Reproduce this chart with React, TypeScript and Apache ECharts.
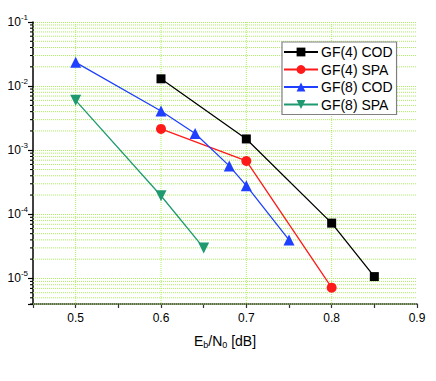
import React, { useEffect, useRef } from "react";
import * as echarts from "echarts";

const seriesNames = ["GF(4) COD", "GF(4) SPA", "GF(8) COD", "GF(8) SPA"];
const gf4CodX = [0.6, 0.7, 0.8, 0.85];
const gf4CodY = [0.013, 0.0015, 7.3e-5, 1.07e-5];
const gf4SpaX = [0.6, 0.7, 0.8];
const gf4SpaY = [0.00215, 0.00068, 7.2e-6];
const gf8CodX = [0.5, 0.6, 0.64, 0.68, 0.7, 0.75];
const gf8CodY = [0.0235, 0.0041, 0.00182, 0.00057, 0.00028, 4.0e-5];
const gf8SpaX = [0.5, 0.6, 0.65];
const gf8SpaY = [0.006, 0.000195, 3.0e-5];

const xMin = 0.45;
const xMax = 0.9;
const yMin = 4e-6;
const yMax = 0.1;
const xGridValues = [0.5, 0.6, 0.7, 0.8];
const yMinorValues: number[] = [];
for (let e = -6; e <= -2; e++) {
  for (let m = 2; m <= 9; m++) {
    const v = m * Math.pow(10, e);
    if (v >= yMin && v < yMax) yMinorValues.push(v);
  }
}

const GRID_GREEN = "#aef060";
const FONT = "'Liberation Sans', Arial, sans-serif";

export default function App() {
  const ref = useRef<HTMLDivElement>(null);
  useEffect(() => {
    const chart = echarts.init(ref.current!, undefined, { renderer: "svg" });
    const zip = (xs: number[], ys: number[]) => xs.map((x, i) => [x, ys[i]]);
    const mk = (
      name: string,
      xs: number[],
      ys: number[],
      color: string,
      symbol: string,
      size: number,
      rotate = 0
    ) => ({
      name,
      type: "line",
      data: zip(xs, ys),
      symbol,
      symbolSize: size,
      symbolRotate: rotate,
      showSymbol: true,
      lineStyle: { color, width: 1.3 },
      itemStyle: { color },
      z: 5,
    });
    chart.setOption({
      animation: false,
      textStyle: { fontFamily: FONT },
      grid: { left: 33, right: 19, top: 22, bottom: 77 },
      legend: {
        data: seriesNames,
        left: 282,
        top: 42,
        orient: "vertical",
        itemWidth: 34,
        itemHeight: 11,
        itemGap: 3.5,
        padding: [3, 4, 3, 1],
        backgroundColor: "#fff",
        borderColor: "#808080",
        borderWidth: 1.2,
        borderRadius: 0,
        textStyle: { fontSize: 14, color: "#000", fontFamily: FONT, padding: [0, 0, 0, -2] },
        z: 10,
      },
      xAxis: {
        type: "value",
        min: xMin,
        max: xMax,
        interval: 0.05,
        name: "{n|E}{s|b}{n|/N}{s|0}{n| [dB]}",
        nameLocation: "middle",
        nameGap: 28,
        nameTextStyle: {
          rich: {
            n: { fontSize: 14, color: "#000", fontFamily: FONT },
            s: { fontSize: 9, color: "#000", fontFamily: FONT, padding: [8, 0, 0, 0] },
          },
        },
        axisLine: { show: true, onZero: false, lineStyle: { color: "#333", width: 1.5 } },
        axisTick: { show: true, inside: false, length: 4, lineStyle: { color: "#333", width: 1.2 } },
        axisLabel: {
          margin: 8,
          fontSize: 12,
          color: "#000",
          fontFamily: FONT,
          formatter: (v: number) =>
            Math.abs(v * 10 - Math.round(v * 10)) < 1e-6 ? v.toFixed(1) : "",
        },
        splitLine: { show: false },
      },
      yAxis: {
        type: "log",
        logBase: 10,
        min: yMin,
        max: yMax,
        axisLine: { show: true, onZero: false, lineStyle: { color: "#000", width: 1.5 } },
        axisTick: { show: true, inside: false, length: 5, lineStyle: { color: "#000", width: 1.2 } },
        axisLabel: {
          margin: 5,
          color: "#000",
          fontFamily: FONT,
          formatter: (v: number) => {
            const l = Math.log10(v);
            const n = Math.round(l);
            if (Math.abs(l - n) > 1e-6) return "";
            return `{b|10}{s|${n}}`;
          },
          rich: {
            b: { fontSize: 12, color: "#000", fontFamily: FONT },
            s: { fontSize: 8, color: "#000", fontFamily: FONT, padding: [0, 0, 9, 0] },
          },
        },
        splitLine: { show: true, lineStyle: { color: GRID_GREEN, type: [1, 1], width: 1 } },
      },
      series: [
        {
          name: "minorGrid",
          type: "custom",
          silent: true,
          z: 1,
          data: yMinorValues.map((v) => [xMin, v]),
          encode: { x: 0, y: 1 },
          renderItem: (params: any, api: any) => {
            const cs = params.coordSys;
            const p = api.coord([api.value(0), api.value(1)]);
            return {
              type: "group",
              children: [
                {
                  type: "line",
                  shape: { x1: cs.x, y1: p[1], x2: cs.x + cs.width, y2: p[1] },
                  style: { stroke: GRID_GREEN, lineWidth: 1, lineDash: [1, 1] },
                },
                {
                  type: "line",
                  shape: { x1: cs.x - 3, y1: p[1], x2: cs.x, y2: p[1] },
                  style: { stroke: "#000", lineWidth: 1.1 },
                },
              ],
            };
          },
        },
        {
          name: "xGrid",
          type: "custom",
          silent: true,
          z: 1,
          data: xGridValues.map((x) => [x, yMax]),
          encode: { x: 0, y: 1 },
          renderItem: (params: any, api: any) => {
            const cs = params.coordSys;
            const p = api.coord([api.value(0), api.value(1)]);
            return {
              type: "line",
              shape: { x1: p[0], y1: cs.y, x2: p[0], y2: cs.y + cs.height },
              style: { stroke: GRID_GREEN, lineWidth: 1, lineDash: [1, 1] },
            };
          },
        },
        mk(seriesNames[0], gf4CodX, gf4CodY, "#000000", "rect", 9),
        mk(seriesNames[1], gf4SpaX, gf4SpaY, "#ff1a1a", "circle", 10),
        mk(seriesNames[2], gf8CodX, gf8CodY, "#2040ff", "triangle", 11),
        mk(seriesNames[3], gf8SpaX, gf8SpaY, "#1f9a70", "triangle", 11, 180),
      ],
    });
    return () => chart.dispose();
  }, []);
  return (
    <div
      ref={ref}
      style={{ position: "fixed", left: 0, top: 0, width: 436, height: 381, background: "#fff" }}
    />
  );
}
